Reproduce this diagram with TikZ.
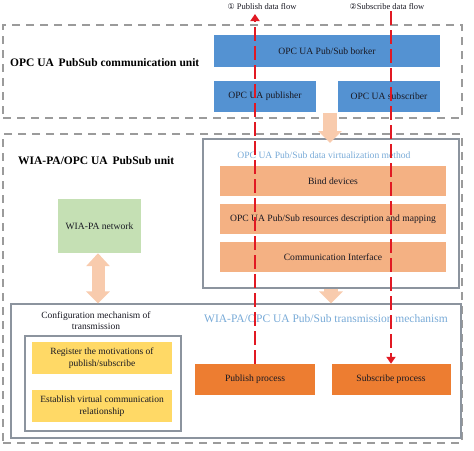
\documentclass[tikz,border=0pt]{standalone}
\usepackage{fontspec}
\setmainfont{Liberation Serif}
\newfontfamily\symfont{DejaVu Sans}
\usetikzlibrary{arrows.meta}
\definecolor{boxblue}{RGB}{84,146,210}
\definecolor{lightor}{RGB}{244,177,131}
\definecolor{darkor}{RGB}{237,125,49}
\definecolor{yel}{RGB}{255,217,102}
\definecolor{grn}{RGB}{197,224,180}
\definecolor{peach}{RGB}{248,203,173}
\definecolor{ttlblue}{RGB}{120,170,215}
\definecolor{framegray}{RGB}{140,148,158}
\definecolor{dashgray}{RGB}{155,155,155}
\definecolor{flowred}{RGB}{225,25,35}
\definecolor{txt}{RGB}{25,25,35}
\tikzset{
  fbox/.style={rectangle, inner sep=0pt, text=txt, font=\fontsize{9.6}{11}\selectfont, align=center},
  bluebox/.style={fbox, fill=boxblue},
  orbox/.style={fbox, fill=lightor},
  procbox/.style={fbox, fill=darkor},
  yelbox/.style={fbox, fill=yel, font=\fontsize{9.5}{11.5}\selectfont},
  grnbox/.style={fbox, fill=grn},
  unitframe/.style={rectangle, draw=dashgray, line width=1.4pt, dash pattern=on 8pt off 6pt, inner sep=0pt},
  grayframe/.style={rectangle, draw=framegray, line width=1.2pt, inner sep=0pt},
  unitlabel/.style={font=\fontsize{11.5}{13}\selectfont\bfseries, text=black, anchor=west, inner sep=0pt},
  ttl/.style={font=\fontsize{9.6}{11}\selectfont, text=ttlblue, inner sep=0pt},
  flowlabel/.style={font=\fontsize{8.5}{10}\selectfont, text=txt, inner sep=0pt},
  redflow/.style={draw=flowred, line width=2pt, dash pattern=on 14pt off 5pt, -{Triangle[width=9pt,length=7pt]}},
  peacharrow/.style={draw=peach, line width=14pt, -{Triangle[width=23pt,length=12pt]}},
  peachdouble/.style={draw=peach, line width=13pt, {Triangle[width=23pt,length=13pt]}-{Triangle[width=23pt,length=12pt]}}
}
\begin{document}
\begin{tikzpicture}[x=1pt,y=-1pt]
\useasboundingbox (0,0) rectangle (474,450);
% units
\node[unitframe, minimum width=459pt, minimum height=93pt] (unit1) at (232.5,71.5) {};
\node[unitframe, minimum width=459pt, minimum height=309pt] (unit2) at (232.5,288.5) {};
\node[unitlabel] (unit1lbl) at (10,63) {OPC UA\, PubSub communication unit};
\node[unitlabel] (unit2lbl) at (18,161) {WIA-PA/OPC UA\, PubSub unit};
% communication unit boxes
\node[bluebox, minimum width=226pt, minimum height=32pt] (broker) at (327,51) {OPC UA Pub/Sub borker};
\node[bluebox, minimum width=102pt, minimum height=31pt] (publisher) at (265,96.5) {OPC UA publisher};
\node[bluebox, minimum width=102pt, minimum height=31pt] (subscriber) at (389,96.5) {OPC UA subscriber};
% virtualization
\node[grayframe, minimum width=256pt, minimum height=149pt] (virt) at (331,213.5) {};
\node[ttl] (virtttl) at (324,155) {OPC UA Pub/Sub data virtualization method};
\node[orbox, minimum width=226pt, minimum height=30pt] (bind) at (333,181) {Bind devices};
\node[orbox, minimum width=226pt, minimum height=30pt] (res) at (333,219) {OPC UA Pub/Sub resources description and mapping};
\node[orbox, minimum width=226pt, minimum height=30pt] (comm) at (333,257) {Communication Interface};
% network
\node[grnbox, minimum width=83pt, minimum height=54pt] (net) at (99.5,226) {WIA-PA network};
% transmission
\node[grayframe, minimum width=450pt, minimum height=134pt] (trans) at (236,371) {};
\node[ttl, font=\fontsize{11.5}{13}\selectfont] (transttl) at (326,319) {WIA-PA/OPC UA Pub/Sub transmission mechanism};
\node[fbox, font=\fontsize{9.5}{11}\selectfont] (conf) at (96,320.5) {Configuration mechanism of\\transmission};
\node[grayframe, minimum width=156pt, minimum height=95pt] (confbox) at (103,383.5) {};
\node[yelbox, minimum width=140pt, minimum height=32pt] (reg) at (102,358) {Register the motivations of\\publish/subscribe};
\node[yelbox, minimum width=140pt, minimum height=32pt] (est) at (102,406) {Establish virtual communication\\relationship};
\node[procbox, minimum width=120pt, minimum height=31pt] (pubproc) at (255,379.5) {Publish process};
\node[procbox, minimum width=119pt, minimum height=31pt] (subproc) at (391,379.5) {Subscribe process};
% peach arrows
\coordinate (a1s) at (330,113);
\coordinate (a1e) at (330,143);
\draw[peacharrow] (a1s) -- (a1e);
\draw[peacharrow] (virt.south -| 331,0) -- (trans.north -| 331,0);
\draw[peachdouble] (net.south -| 98,0) -- (trans.north -| 98,0);
% flow labels
\node[flowlabel] (publbl) at (262,7) {{\symfont\fontsize{8}{10}\selectfont ①} Publish data flow};
\node[flowlabel] (sublbl) at (387,7) {{\symfont\fontsize{8}{10}\selectfont ②}Subscribe data flow};
\coordinate (pubtop) at (255,14);
\coordinate (subtop) at (391,11);
\draw[redflow] (pubproc.north) -- (pubtop);
\draw[redflow] (subtop) -- (subproc.north);
\end{tikzpicture}
\end{document}
